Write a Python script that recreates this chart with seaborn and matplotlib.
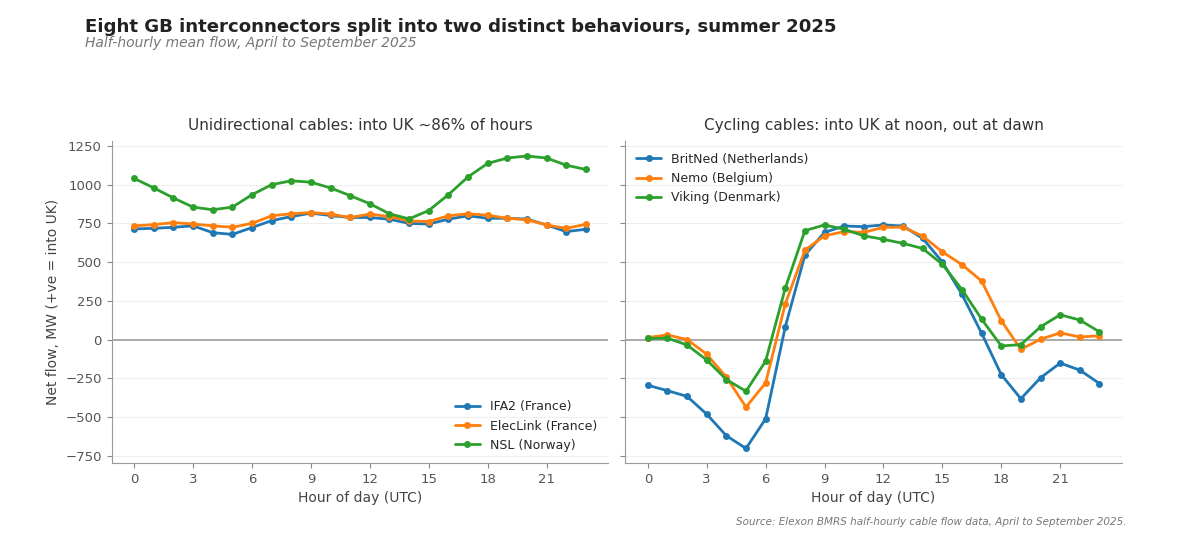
import numpy as np
import pandas as pd
import matplotlib
matplotlib.use('Agg')
import matplotlib.pyplot as plt
import seaborn as sns

##################################################################
hours = list(range(24))

# unidirectional cables
ifa2 = [714, 718, 725, 734, 690, 679, 723, 768, 794, 816, 801, 788,
        788, 777, 750, 746, 777, 799, 783, 783, 778, 740, 697, 712]
eleclink = [734, 742, 755, 746, 734, 725, 750, 799, 812, 820, 810, 788,
            810, 794, 766, 762, 799, 812, 803, 783, 773, 740, 718, 744]
nsl = [1040, 979, 914, 855, 838, 855, 935, 1000, 1025, 1016, 979, 929,
       877, 812, 779, 833, 935, 1050, 1137, 1172, 1185, 1172, 1126, 1098]

# cycling cables
britned = [-295, -330, -367, -482, -621, -703, -512, 82, 545, 692, 733, 729,
           740, 733, 653, 501, 291, 41, -226, -382, -247, -152, -197, -284]
nemo = [13, 30, 0, -95, -243, -436, -280, 230, 577, 670, 697, 692,
        725, 725, 668, 566, 484, 378, 122, -63, 2, 43, 17, 24]
viking = [7, 9, -35, -132, -258, -334, -139, 332, 703, 740, 712, 670,
          647, 621, 588, 486, 323, 132, -41, -33, 82, 160, 126, 50]

left_names = ['IFA2 (France)', 'ElecLink (France)', 'NSL (Norway)']
right_names = ['BritNed (Netherlands)', 'Nemo (Belgium)', 'Viking (Denmark)']
colors = ['#1f77b4', '#ff7f0e', '#2ca02c']

##################################################################
def long_frame(names, series):
    rows = []
    for name, vals in zip(names, series):
        rows.append(pd.DataFrame({'Hour': hours, 'Flow': vals, 'Cable': name}))
    return pd.concat(rows, ignore_index=True)

df_left = long_frame(left_names, [ifa2, eleclink, nsl])
df_right = long_frame(right_names, [britned, nemo, viking])

##################################################################
sns.set_style('ticks')
plt.rcParams['font.family'] = ['DejaVu Sans']

plt.close('all')
fig, (ax1, ax2) = plt.subplots(1, 2, figsize=(12, 5.48), dpi=100, sharey=True)
fig.subplots_adjust(left=0.093, right=0.935, top=0.742, bottom=0.155, wspace=0.034)

sns.lineplot(data=df_left, x='Hour', y='Flow', hue='Cable', hue_order=left_names,
             palette=colors, marker='o', markersize=5, markeredgewidth=0,
             linewidth=2, ax=ax1)
sns.lineplot(data=df_right, x='Hour', y='Flow', hue='Cable', hue_order=right_names,
             palette=colors, marker='o', markersize=5, markeredgewidth=0,
             linewidth=2, ax=ax2)

fz = 11
ax1.set_title('Unidirectional cables: into UK ~86% of hours', fontsize=fz, color='#333333', pad=8)
ax2.set_title('Cycling cables: into UK at noon, out at dawn', fontsize=fz, color='#333333', pad=8)

for ax in [ax1, ax2]:
    ax.axhline(0, color='#aaaaaa', linewidth=1.4, zorder=1)
    ax.set_xticks(np.arange(0, 24, 3))
    ax.set_yticks(np.arange(-750, 1251, 250))
    ax.grid(axis='y', color='#eeeeee', linewidth=0.8)
    ax.set_axisbelow(True)
    ax.set_xlabel('Hour of day (UTC)', fontsize=10, color='#444444')
    ax.tick_params(colors='#888888', labelcolor='#555555', labelsize=9.5)
    for s in ['top', 'right']:
        ax.spines[s].set_visible(False)
    for s in ['left', 'bottom']:
        ax.spines[s].set_color('#999999')

ax1.set_ylabel('Net flow, MW (+ve = into UK)', fontsize=10, color='#444444')
ax2.set_ylabel('')
ax1.legend(loc='lower right', frameon=False, fontsize=9, title=None)
ax2.legend(loc='upper left', frameon=False, fontsize=9, title=None)

fig.text(0.071, 0.950, 'Eight GB interconnectors split into two distinct behaviours, summer 2025',
         fontsize=13.1, fontweight='bold', color='#222222', ha='left', va='center')
fig.text(0.071, 0.921, 'Half-hourly mean flow, April to September 2025',
         fontsize=10, style='italic', color='#777777', ha='left', va='center')
fig.text(0.939, 0.048, 'Source: Elexon BMRS half-hourly cable flow data, April to September 2025.',
         fontsize=7.5, style='italic', color='#777777', ha='right', va='center')

plt.savefig('out.png', dpi=100)
